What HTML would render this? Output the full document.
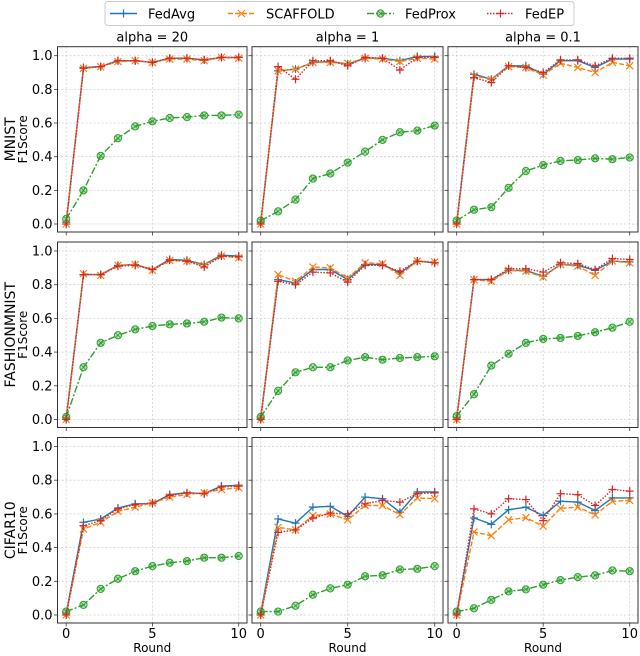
<!DOCTYPE html>
<html><head><meta charset="utf-8"><style>
body{margin:0;background:#fff}
svg{display:block;font-family:"DejaVu Sans","Liberation Sans",sans-serif}
</style></head><body>
<svg id="c" width="640" height="656" viewBox="0 0 640 656" xmlns="http://www.w3.org/2000/svg"></svg>
<script>
const rounds=[0,1,2,3,4,5,6,7,8,9,10];
const datasets=["MNIST","FASHIONMNIST","CIFAR10"];
const alphas=["alpha = 20","alpha = 1","alpha = 0.1"];
const yTicks=[0,0.2,0.4,0.6,0.8,1.0];
const yTickLabels=["0.0","0.2","0.4","0.6","0.8","1.0"];
const xTicks=[0,5,10];
const methods=["FedAvg","SCAFFOLD","FedProx","FedEP"];
// [row][col]
const fedAvg=[
[[0.01,0.93,0.935,0.97,0.97,0.96,0.985,0.985,0.975,0.99,0.99],[0.01,0.91,0.92,0.96,0.965,0.95,0.985,0.985,0.97,0.995,0.995],[0.01,0.89,0.86,0.94,0.94,0.89,0.97,0.97,0.93,0.98,0.98]],
[[0.01,0.86,0.86,0.915,0.92,0.89,0.95,0.945,0.92,0.975,0.97],[0.01,0.83,0.81,0.89,0.89,0.83,0.92,0.92,0.87,0.94,0.93],[0.01,0.83,0.83,0.885,0.885,0.85,0.92,0.915,0.885,0.94,0.935]],
[[0.01,0.55,0.57,0.635,0.66,0.66,0.715,0.725,0.72,0.765,0.77],[0.01,0.57,0.545,0.64,0.645,0.585,0.70,0.69,0.61,0.73,0.73],[0.01,0.576,0.538,0.625,0.64,0.59,0.675,0.67,0.62,0.695,0.695]]];
const scaffold=[
[[0,0.925,0.935,0.965,0.97,0.96,0.98,0.98,0.97,0.99,0.985],[0,0.91,0.92,0.96,0.96,0.955,0.985,0.98,0.965,0.985,0.98],[0,0.88,0.86,0.935,0.93,0.885,0.955,0.93,0.9,0.96,0.94]],
[[0,0.865,0.855,0.915,0.92,0.885,0.945,0.94,0.915,0.97,0.96],[0,0.86,0.82,0.905,0.9,0.84,0.93,0.925,0.855,0.94,0.935],[0,0.83,0.82,0.885,0.88,0.845,0.92,0.91,0.855,0.94,0.93]],
[[0,0.51,0.55,0.615,0.64,0.665,0.70,0.715,0.725,0.745,0.755],[0,0.52,0.505,0.59,0.60,0.565,0.65,0.65,0.595,0.695,0.69],[0,0.493,0.47,0.565,0.578,0.527,0.633,0.64,0.594,0.675,0.68]]];
const fedProx=[
[[0.03,0.2,0.405,0.51,0.58,0.61,0.63,0.635,0.645,0.645,0.65],[0.02,0.075,0.145,0.27,0.3,0.365,0.43,0.5,0.545,0.555,0.585],[0.02,0.085,0.1,0.215,0.315,0.35,0.375,0.38,0.39,0.385,0.395]],
[[0.015,0.31,0.455,0.5,0.535,0.555,0.565,0.57,0.58,0.605,0.6],[0.015,0.17,0.28,0.31,0.31,0.35,0.37,0.355,0.365,0.37,0.375],[0.02,0.15,0.32,0.39,0.455,0.478,0.484,0.496,0.518,0.545,0.58]],
[[0.02,0.06,0.155,0.215,0.26,0.29,0.31,0.32,0.34,0.34,0.35],[0.02,0.02,0.055,0.12,0.158,0.18,0.23,0.236,0.27,0.274,0.29],[0.02,0.04,0.09,0.14,0.152,0.18,0.207,0.225,0.235,0.264,0.26]]];
const fedEP=[
[[0,0.925,0.935,0.97,0.97,0.96,0.985,0.985,0.975,0.99,0.99],[0,0.935,0.86,0.97,0.97,0.94,0.99,0.985,0.915,0.99,0.99],[0,0.87,0.84,0.94,0.93,0.9,0.975,0.975,0.94,0.985,0.985]],
[[0,0.86,0.86,0.91,0.915,0.89,0.945,0.94,0.905,0.97,0.965],[0,0.82,0.80,0.875,0.87,0.815,0.915,0.915,0.88,0.94,0.93],[0,0.83,0.83,0.895,0.895,0.875,0.93,0.925,0.89,0.955,0.95]],
[[0,0.53,0.56,0.63,0.655,0.665,0.71,0.725,0.72,0.76,0.765],[0,0.49,0.505,0.575,0.605,0.60,0.66,0.68,0.67,0.72,0.725],[0,0.63,0.60,0.69,0.685,0.56,0.72,0.714,0.65,0.745,0.735]]];

const NS="http://www.w3.org/2000/svg";
const svg=document.getElementById('c');
function mk(tag,attrs,parent){const e=document.createElementNS(NS,tag);for(const k in attrs)e.setAttribute(k,attrs[k]);(parent||svg).appendChild(e);return e;}
const colL=[57.5,252,448],colR=[247,443,638];
const rowT=[46.7,242,437.5],rowB=[232,427.5,623];
const colors=["#1f77b4","#ff7f0e","#2ca02c","#d62728"];
const dashes=["","5,2","7,2,2,2","1.5,1.5"];
const series=[fedAvg,scaffold,fedProx,fedEP];
function marker(g,m,x,y,c){
  if(m===0||m===3){const s=4;mk('path',{d:`M${x-s},${y}H${x+s}M${x},${y-s}V${y+s}`,stroke:c,'stroke-width':1.2,fill:'none'},g);}
  else if(m===1){const s=3.5;mk('path',{d:`M${x-s},${y-s}L${x+s},${y+s}M${x-s},${y+s}L${x+s},${y-s}`,stroke:c,'stroke-width':1.2,fill:'none'},g);}
  else{mk('circle',{cx:x,cy:y,r:3.6,fill:c,'fill-opacity':0.35,stroke:c,'stroke-width':1},g);
    mk('path',{d:`M${x-2.5},${y-2.5}L${x+2.5},${y+2.5}M${x-2.5},${y+2.5}L${x+2.5},${y-2.5}`,stroke:c,'stroke-width':0.8},g);}
}
for(let r=0;r<3;r++)for(let c=0;c<3;c++){
  const L=colL[c],R=colR[c],T=rowT[r],B=rowB[r];
  const x0=L+8.7,x1=R-8.3,y0=B-8,y1=T+9;
  const sx=v=>x0+(v-rounds[0])/(rounds[rounds.length-1]-rounds[0])*(x1-x0);
  const sy=v=>y0-v*(y0-y1);
  const g=mk('g',{});
  
  
  for(const t of yTicks)mk('line',{x1:L,x2:R,y1:sy(t),y2:sy(t),stroke:'#d0d0d0','stroke-width':0.8,'stroke-dasharray':'2,2'},g);
  for(const t of xTicks)mk('line',{x1:sx(t),x2:sx(t),y1:T,y2:B,stroke:'#d0d0d0','stroke-width':0.8,'stroke-dasharray':'2,2'},g);
  for(let m=0;m<4;m++){
    const d=series[m][r][c];
    const pts=d.map((v,i)=>sx(rounds[i]).toFixed(1)+','+sy(v).toFixed(1)).join(' ');
    const pl=mk('polyline',{points:pts,fill:'none',stroke:colors[m],'stroke-width':1.4,'stroke-dasharray':dashes[m]},g);
    
    
    d.forEach((v,i)=>marker(g,m,sx(rounds[i]),sy(v),colors[m]));
  }
  mk('rect',{x:L,y:T,width:R-L,height:B-T,fill:'none',stroke:'#333','stroke-width':1},g);
  for(const t of yTicks){
    mk('line',{x1:L-3.5,x2:L,y1:sy(t),y2:sy(t),stroke:'#333','stroke-width':0.8},g);
    if(c===0){const tx=mk('text',{x:L-5,y:sy(t)+4.5,'text-anchor':'end','font-size':13,fill:'#000'},g);tx.textContent=yTickLabels[yTicks.indexOf(t)];}
  }
  for(const t of xTicks){
    mk('line',{x1:sx(t),x2:sx(t),y1:B,y2:B+3.5,stroke:'#333','stroke-width':0.8},g);
    if(r===2){const tx=mk('text',{x:sx(t),y:B+15,'text-anchor':'middle','font-size':13,fill:'#000'},g);tx.textContent=t;}
  }
  if(r===0){const tt=mk('text',{x:(L+R)/2,y:T-5,'text-anchor':'middle','font-size':13,fill:'#000'});tt.textContent=alphas[c];
    }
  if(r===2){const xl=mk('text',{x:(L+R)/2,y:652,'text-anchor':'middle','font-size':12,fill:'#000'});xl.textContent='Round';
    }
  if(c===0){const cy=(T+B)/2;
    const a=mk('text',{x:0,y:0,transform:`translate(15,${cy}) rotate(-90)`,'text-anchor':'middle','font-size':14,fill:'#000'});a.textContent=datasets[r];
    
    const b=mk('text',{x:0,y:0,transform:`translate(27,${cy}) rotate(-90)`,'text-anchor':'middle','font-size':12,fill:'#000'});b.textContent='F1Score';
    }
}
// legend
const lg=mk('g',{});


mk('rect',{x:105,y:1.5,width:469,height:24,rx:3,fill:'#fff',stroke:'#ccc','stroke-width':1},lg);
const lx=[110,228,367,487];
for(let m=0;m<4;m++){
  const e=mk('g',{},lg);
  
  
  mk('line',{x1:lx[m],x2:lx[m]+27,y1:13.5,y2:13.5,stroke:colors[m],'stroke-width':1.4,'stroke-dasharray':dashes[m]},e);
  marker(e,m,lx[m]+13.5,13.5,colors[m]);
  const t=mk('text',{x:lx[m]+38,y:18.5,'font-size':13,fill:'#000'},e);t.textContent=methods[m];
}
</script>
</body></html>
